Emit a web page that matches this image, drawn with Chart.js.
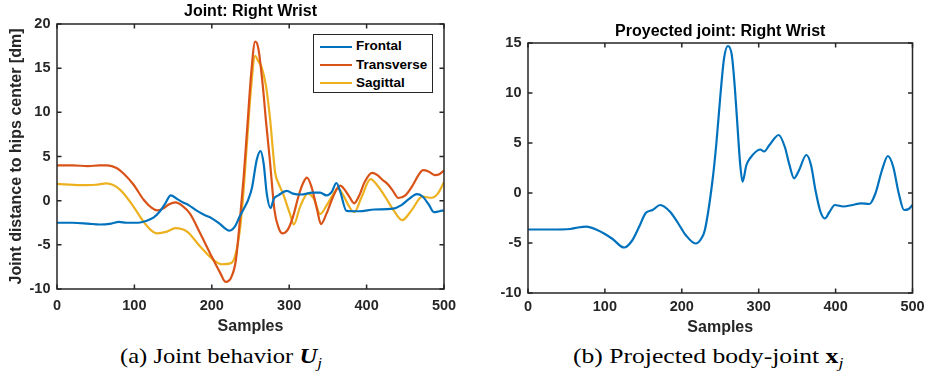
<!DOCTYPE html>
<html>
<head>
<meta charset="utf-8">
<script src="https://cdn.jsdelivr.net/npm/chart.js@4.4.0/dist/chart.umd.min.js"></script>
<style>
  body { margin: 0; background: #fff; width: 930px; height: 378px; position: relative; overflow: hidden; }
  canvas { position: absolute; top: 0; }
  #left { left: 0; }
  #right { left: 465px; }
  .legend { position: absolute; left: 313px; top: 34px; width: 118px; height: 57px; border: 1.5px solid #262626; background: #fff; font: bold 13.5px "Liberation Sans", Arial, sans-serif; color: #000; }
  .legend div { position: absolute; left: 6px; height: 18px; line-height: 18px; white-space: nowrap; }
  .legend i { display: inline-block; width: 32px; height: 2px; vertical-align: middle; margin-right: 4px; }
  .caption { position: absolute; top: 344px; height: 24px; line-height: 24px; font: 21px "Liberation Serif", serif; color: #000; white-space: nowrap; transform-origin: left center; transform: scaleX(1.17); }
  .caption sub { font-size: 0.7em; }
</style>
</head>
<body>
<canvas id="left" width="465" height="340"></canvas>
<canvas id="right" width="465" height="340"></canvas>
<div class="legend" id="legend"></div>
<div class="caption" id="capA" style="left:120px">(a) Joint behavior <b><i>U</i></b><sub><i>j</i></sub></div>
<div class="caption" id="capB" style="left:573px; transform: scaleX(1.22)">(b) Projected body-joint <b>x</b><sub><i>j</i></sub></div>
<script>
// values (sample index, value)
const frontalX = [0, 20, 40, 55, 70, 80, 90, 105, 115, 125, 133, 140, 147, 155, 163, 170, 180, 190, 200, 210, 218, 222, 230, 236, 242, 247, 252, 258, 263, 267, 271, 276, 280, 286, 297, 305, 315, 330, 340, 348, 355, 361, 366, 374, 390, 410, 434, 445, 455, 465, 472, 480, 487, 494, 500];
const frontalY = [-2.5, -2.5, -2.6, -2.7, -2.6, -2.4, -2.5, -2.5, -2.3, -1.9, -1.2, -0.3, 0.6, 0.2, -0.2, -0.5, -1.1, -1.6, -2.0, -2.6, -3.2, -3.4, -2.9, -1.8, -0.8, 0.1, 1.5, 4.6, 5.6, 4.2, 0.8, -0.85, 0.2, 0.6, 1.1, 0.8, 0.7, 0.9, 0.9, 0.6, 1.0, 2.0, 1.0, -1.15, -1.2, -1.0, -0.9, -0.5, 0.2, 0.75, 0.5, -0.4, -1.3, -1.2, -1.1];

const transverseX = [0, 20, 40, 55, 65, 77, 87, 99, 112, 122, 129, 137, 145, 153, 162, 172, 185, 198, 211, 218, 225, 231, 236, 241, 246, 251, 256, 260, 266, 270, 275, 281, 286, 291, 298, 305, 312, 318, 323, 329, 336, 341, 348, 356, 362, 366, 372, 378, 384, 390, 398, 407, 414, 420, 428, 434, 441, 450, 460, 467, 473, 480, 488, 494, 500];
const transverseY = [4.0, 4.0, 3.9, 4.0, 4.0, 3.7, 3.0, 1.8, 0.1, -0.8, -1.1, -0.9, -0.4, -0.2, -0.6, -1.5, -3.7, -6.0, -8.2, -9.2, -8.7, -6.8, -2.5, 2.5, 8.5, 14.5, 18.0, 17.3, 12.9, 9.0, 4.6, -1.1, -3.0, -3.7, -3.3, -1.8, 0.5, 2.0, 2.6, 1.5, -1.0, -2.65, -1.5, 0.3, 1.4, 1.7, 1.2, 0.4, -0.3, 0.5, 2.2, 3.15, 2.9, 2.4, 1.8, 1.1, 0.3, 0.6, 1.8, 2.9, 3.45, 3.3, 2.9, 3.0, 3.4];

const sagittalX = [0, 30, 50, 64, 82, 99, 112, 121, 129, 142, 153, 168, 185, 202, 213, 224, 230, 236, 240, 245, 250, 256, 260, 264, 270, 275, 282, 286, 292, 301, 306, 314, 324, 332, 340, 348, 356, 363, 370, 377, 384, 393, 405, 415, 425, 435, 446, 458, 472, 484, 492, 500];
const sagittalY = [1.9, 1.75, 1.8, 1.95, 1.2, -0.7, -2.4, -3.3, -3.7, -3.5, -3.1, -3.5, -5.2, -6.7, -7.2, -7.1, -6.3, -3.5, 0.0, 6.0, 12.0, 16.4, 15.8, 15.2, 13.0, 9.5, 3.1, 2.0, 0.8, -1.5, -2.7, -0.7, 0.8, 0.2, -1.5, -0.6, 0.6, 1.4, 0.6, -0.6, -1.3, 0.3, 2.45, 1.6, 0.3, -1.1, -2.2, -1.1, 0.45, 0.33, 0.8, 2.1];

const projectedX = [0, 30, 55, 65, 76, 90, 100, 110, 125, 135, 145, 153, 162, 172, 185, 195, 205, 218, 225, 230, 240, 245, 250, 255, 260, 265, 269, 273, 276, 279, 284, 289, 302, 307, 314, 326, 334, 340, 346, 352, 362, 368, 374, 380, 386, 392, 399, 410, 422, 433, 444, 452, 460, 468, 475, 482, 489, 495, 500];
const projectedY = [-3.65, -3.65, -3.6, -3.45, -3.37, -3.7, -4.1, -4.6, -5.45, -4.8, -3.3, -2.0, -1.7, -1.2, -1.9, -3.0, -4.2, -5.05, -4.6, -3.7, 1.3, 5.0, 9.6, 13.5, 14.7, 13.8, 10.5, 6.0, 2.8, 1.13, 2.8, 3.5, 4.35, 4.15, 4.8, 5.8, 4.6, 2.8, 1.47, 2.2, 3.8, 2.8, 0.2, -1.8, -2.55, -1.9, -1.2, -1.35, -1.2, -1.03, -1.1, 0.0, 2.2, 3.7, 2.6, 0.0, -1.7, -1.6, -1.2];

const seriesNames = ['Frontal', 'Transverse', 'Sagittal'];
const seriesColors = ['#0072BD', '#D95319', '#EDB120'];

const FONT = '"Liberation Sans", Arial, sans-serif';
const INK = '#262626';

const pts = (xs, ys) => xs.map((x, i) => ({ x, y: ys[i] }));

// MATLAB style box with inward ticks on all four sides
const boxPlugin = {
    id: 'box',
    afterDraw(chart) {
        const { ctx, chartArea: a, scales: { x, y } } = chart;
        const len = 4.5;
        ctx.save();
        ctx.strokeStyle = INK;
        ctx.lineWidth = 1.5;
        ctx.strokeRect(a.left, a.top, a.right - a.left, a.bottom - a.top);
        ctx.beginPath();
        x.ticks.forEach(t => {
            const px = x.getPixelForValue(t.value);
            ctx.moveTo(px, a.bottom); ctx.lineTo(px, a.bottom - len);
            ctx.moveTo(px, a.top); ctx.lineTo(px, a.top + len);
        });
        y.ticks.forEach(t => {
            const py = y.getPixelForValue(t.value);
            ctx.moveTo(a.left, py); ctx.lineTo(a.left + len, py);
            ctx.moveTo(a.right, py); ctx.lineTo(a.right - len, py);
        });
        ctx.stroke();
        ctx.restore();
    }
};

function makeChart(el, datasets, cfg) {
    return new Chart(el, {
        type: 'line',
        data: { datasets },
        plugins: [boxPlugin],
        options: {
            responsive: false,
            animation: false,
            devicePixelRatio: 1,
            layout: { padding: { left: 0, right: cfg.padRight, top: 0, bottom: 0 } },
            elements: {
                point: { radius: 0 },
                line: { borderWidth: 2.2, cubicInterpolationMode: 'monotone' }
            },
            plugins: {
                legend: { display: false },
                tooltip: { enabled: false },
                title: {
                    display: true,
                    text: cfg.title,
                    fullSize: false,
                    color: '#000',
                    font: { family: FONT, size: 16, weight: 'bold' },
                    padding: cfg.titlePad
                }
            },
            scales: {
                x: {
                    type: 'linear', min: 0, max: 500,
                    grid: { display: false, drawTicks: false },
                    border: { display: false },
                    ticks: { stepSize: 100, padding: cfg.xTickPad, color: INK, font: { family: FONT, size: 14.5, weight: 'bold' } },
                    title: { display: true, text: 'Samples', color: INK, font: { family: FONT, size: 16, weight: 'bold' }, padding: { top: 0, bottom: cfg.xTitlePad } },
                    afterFit: s => { s.height = cfg.xHeight; }
                },
                y: {
                    min: cfg.yMin, max: cfg.yMax,
                    grid: { display: false, drawTicks: false },
                    border: { display: false },
                    ticks: { stepSize: 5, padding: 6.5, color: INK, font: { family: FONT, size: 14.5, weight: 'bold' } },
                    title: { display: !!cfg.yTitle, text: cfg.yTitle || '', color: INK, font: { family: FONT, size: 16, weight: 'bold' }, padding: { top: 6.5, bottom: 0 } },
                    afterFit: s => { s.width = cfg.yWidth; }
                }
            }
        }
    });
}

const leftSets = [pts(frontalX, frontalY), pts(transverseX, transverseY), pts(sagittalX, sagittalY)].map((data, i) => ({
    label: seriesNames[i],
    data,
    borderColor: seriesColors[i],
    backgroundColor: seriesColors[i],
    fill: false
}));

const leftChart = makeChart(document.getElementById('left'), leftSets, {
    title: 'Joint: Right Wrist',
    titlePad: { top: 2.4, bottom: 2.4 },
    yTitle: 'Joint distance to hips center [dm]',
    yMin: -10, yMax: 20,
    yWidth: 57, xHeight: 51, padRight: 21,
    xTickPad: 8.4, xTitlePad: 3.4
});

makeChart(document.getElementById('right'), [{
    label: 'Projected',
    data: pts(projectedX, projectedY),
    borderColor: seriesColors[0],
    backgroundColor: seriesColors[0],
    fill: false
}], {
    title: 'Proyected joint: Right Wrist',
    titlePad: { top: 22.1, bottom: 1.7 },
    yMin: -10, yMax: 15,
    yWidth: 63, xHeight: 47, padRight: 15,
    xTickPad: 5.4, xTitlePad: 2.4
});

// legend box inside the left axes
const legendEl = document.getElementById('legend');
leftChart.data.datasets.forEach((ds, i) => {
    const row = document.createElement('div');
    row.style.top = (2.2 + i * 18.3) + 'px';
    row.innerHTML = '<i style="background:' + ds.borderColor + '"></i>' + ds.label;
    legendEl.appendChild(row);
});
</script>
</body>
</html>
